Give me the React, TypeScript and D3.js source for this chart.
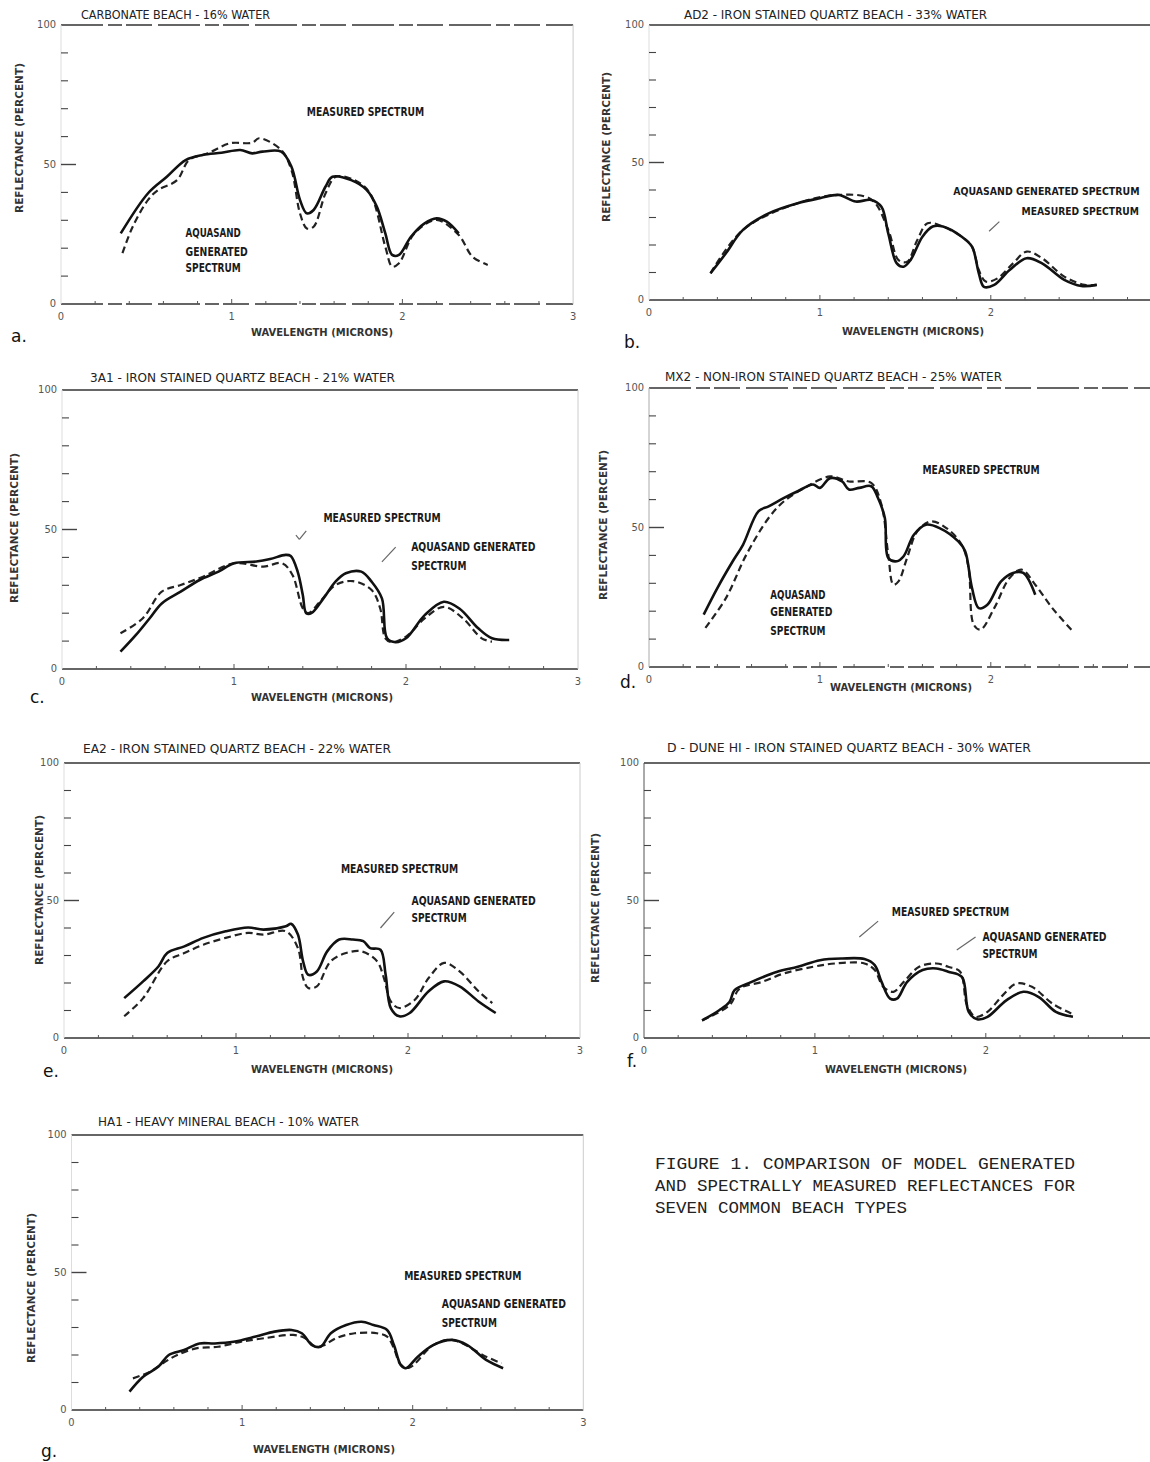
import React from 'react'
import * as d3 from 'd3'

type Pt = [number, number]

// wavelength (microns), reflectance (percent)
const measuredA: Pt[] = [[0.35, 25.3], [0.51, 39.7], [0.62, 45.6], [0.73, 51.6], [0.83, 53.4], [0.94, 54.2], [1.05, 55.2], [1.12, 54.0], [1.18, 54.6], [1.29, 54.6], [1.35, 49.2], [1.40, 37.3], [1.44, 32.5], [1.48, 33.7], [1.55, 42.1], [1.59, 45.6], [1.70, 44.4], [1.79, 40.9], [1.85, 34.9], [1.90, 25.3], [1.94, 17.6], [1.98, 17.6], [2.05, 24.1], [2.13, 28.9], [2.20, 30.7], [2.26, 29.5], [2.33, 25.3]]
const generatedA: Pt[] = [[0.36, 18.2], [0.42, 27.7], [0.51, 37.3], [0.57, 40.9], [0.68, 44.4], [0.75, 51.6], [0.86, 54.0], [0.99, 57.6], [1.12, 57.8], [1.16, 59.4], [1.29, 55.2], [1.35, 48.0], [1.40, 32.5], [1.44, 27.1], [1.48, 27.7], [1.55, 39.7], [1.61, 45.6], [1.72, 44.4], [1.81, 39.7], [1.90, 20.5], [1.94, 13.4], [1.98, 14.6], [2.07, 25.3], [2.20, 30.1], [2.33, 24.7], [2.41, 17.0], [2.50, 14.0]]

const measuredB: Pt[] = [[0.36, 9.7], [0.45, 17.0], [0.55, 25.5], [0.70, 31.5], [0.87, 35.2], [1.00, 37.0], [1.11, 38.2], [1.21, 35.8], [1.30, 36.4], [1.36, 33.9], [1.40, 24.2], [1.45, 13.3], [1.49, 12.1], [1.53, 14.5], [1.60, 23.0], [1.66, 26.7], [1.72, 26.7], [1.83, 23.0], [1.89, 19.4], [1.93, 9.7], [1.96, 4.8], [2.02, 5.5], [2.11, 10.9], [2.21, 15.2], [2.30, 13.3], [2.43, 7.3], [2.53, 5.1], [2.62, 5.5]]
const generatedB: Pt[] = [[0.36, 9.7], [0.55, 25.5], [0.87, 35.2], [1.11, 38.2], [1.30, 36.6], [1.40, 25.5], [1.46, 14.5], [1.51, 13.9], [1.57, 21.8], [1.63, 27.9], [1.72, 26.7], [1.83, 23.0], [1.89, 19.4], [1.93, 10.9], [1.97, 6.7], [2.04, 7.9], [2.13, 13.3], [2.21, 17.6], [2.30, 15.2], [2.43, 8.5], [2.55, 5.5], [2.62, 5.5]]

const measuredC: Pt[] = [[0.34, 6.2], [0.43, 12.2], [0.51, 18.2], [0.58, 23.5], [0.69, 27.7], [0.80, 31.9], [0.91, 34.9], [1.00, 37.9], [1.13, 38.5], [1.21, 39.4], [1.30, 40.9], [1.33, 40.5], [1.37, 34.9], [1.40, 26.5], [1.42, 20.0], [1.45, 20.0], [1.52, 25.3], [1.59, 31.3], [1.65, 34.3], [1.74, 34.9], [1.80, 31.3], [1.86, 25.3], [1.89, 11.0], [1.94, 9.6], [2.00, 11.0], [2.11, 19.4], [2.22, 24.1], [2.31, 21.7], [2.42, 14.6], [2.50, 11.0], [2.60, 10.4]]
const generatedC: Pt[] = [[0.34, 12.8], [0.47, 18.2], [0.58, 27.7], [0.69, 30.1], [0.82, 33.1], [1.00, 37.9], [1.17, 36.7], [1.28, 37.9], [1.34, 33.7], [1.40, 21.7], [1.43, 20.0], [1.50, 24.1], [1.59, 30.1], [1.69, 31.5], [1.80, 28.3], [1.85, 21.7], [1.88, 11.0], [1.92, 9.6], [2.00, 11.6], [2.11, 18.2], [2.22, 22.3], [2.33, 18.2], [2.44, 11.0], [2.50, 9.8]]

const measuredD: Pt[] = [[0.32, 18.8], [0.40, 28.3], [0.49, 37.9], [0.55, 43.8], [0.64, 55.8], [0.70, 57.6], [0.79, 60.6], [0.87, 63.0], [0.96, 65.4], [1.00, 64.2], [1.06, 67.7], [1.13, 66.5], [1.17, 63.6], [1.23, 64.2], [1.30, 64.8], [1.34, 60.6], [1.38, 53.4], [1.40, 39.1], [1.45, 37.9], [1.49, 39.7], [1.55, 47.4], [1.62, 51.0], [1.70, 49.8], [1.81, 45.0], [1.85, 41.5], [1.89, 28.3], [1.93, 21.1], [1.98, 22.3], [2.06, 30.7], [2.13, 33.7], [2.19, 33.7], [2.26, 25.9]]
const generatedD: Pt[] = [[0.33, 14.0], [0.45, 24.7], [0.57, 40.3], [0.70, 53.4], [0.79, 59.4], [0.91, 64.2], [1.06, 68.3], [1.17, 66.5], [1.30, 66.0], [1.36, 58.2], [1.40, 40.3], [1.43, 29.5], [1.46, 30.7], [1.51, 39.1], [1.57, 48.6], [1.65, 52.2], [1.74, 49.8], [1.83, 43.8], [1.87, 35.5], [1.90, 15.2], [1.94, 13.4], [2.02, 21.1], [2.11, 31.9], [2.18, 34.9], [2.26, 29.5], [2.36, 21.1], [2.48, 12.8]]

const measuredE: Pt[] = [[0.35, 14.5], [0.46, 20.6], [0.55, 26.1], [0.60, 30.9], [0.70, 33.3], [0.81, 36.4], [0.94, 38.8], [1.07, 40.2], [1.16, 39.4], [1.29, 40.6], [1.32, 41.5], [1.36, 37.6], [1.39, 27.9], [1.42, 23.0], [1.47, 24.2], [1.53, 31.5], [1.60, 35.8], [1.68, 35.8], [1.74, 35.2], [1.78, 32.7], [1.84, 32.1], [1.87, 23.0], [1.90, 10.9], [1.95, 7.9], [2.01, 9.1], [2.12, 17.0], [2.21, 20.6], [2.30, 18.8], [2.41, 13.3], [2.51, 9.1]]
const generatedE: Pt[] = [[0.35, 7.9], [0.46, 14.5], [0.60, 27.9], [0.70, 30.9], [0.81, 33.9], [0.94, 36.4], [1.07, 38.2], [1.16, 37.6], [1.29, 38.8], [1.36, 32.7], [1.39, 21.8], [1.42, 18.2], [1.47, 18.8], [1.55, 27.9], [1.64, 30.9], [1.73, 31.5], [1.82, 27.9], [1.86, 21.8], [1.90, 13.3], [1.95, 10.9], [2.04, 13.9], [2.12, 21.8], [2.21, 27.3], [2.30, 24.2], [2.41, 17.0], [2.49, 12.7]]

const measuredF: Pt[] = [[0.34, 6.4], [0.44, 10.1], [0.50, 13.1], [0.53, 17.4], [0.63, 20.4], [0.78, 24.1], [0.90, 25.9], [1.03, 28.3], [1.16, 28.9], [1.29, 28.7], [1.35, 26.5], [1.39, 20.4], [1.44, 14.3], [1.48, 14.3], [1.54, 20.4], [1.63, 24.7], [1.71, 25.3], [1.78, 24.1], [1.86, 22.2], [1.90, 9.5], [1.95, 6.8], [2.01, 7.7], [2.12, 13.7], [2.22, 16.8], [2.31, 14.9], [2.41, 9.5], [2.51, 7.7]]
const generatedF: Pt[] = [[0.34, 6.4], [0.50, 11.9], [0.56, 18.0], [0.69, 20.4], [0.82, 23.5], [0.99, 25.9], [1.12, 27.1], [1.29, 27.1], [1.35, 24.7], [1.40, 18.6], [1.46, 16.8], [1.52, 20.4], [1.61, 25.9], [1.71, 27.1], [1.78, 25.9], [1.85, 24.1], [1.89, 11.9], [1.94, 7.7], [2.01, 9.5], [2.10, 15.6], [2.18, 19.8], [2.27, 18.6], [2.39, 12.5], [2.50, 8.9]]

const measuredG: Pt[] = [[0.34, 6.7], [0.42, 12.1], [0.51, 15.8], [0.57, 20.0], [0.66, 21.8], [0.75, 24.2], [0.84, 24.2], [0.95, 24.8], [1.08, 26.7], [1.19, 28.5], [1.29, 29.1], [1.35, 27.9], [1.41, 23.6], [1.46, 23.0], [1.52, 27.9], [1.61, 30.9], [1.70, 32.1], [1.77, 30.9], [1.85, 29.1], [1.89, 23.6], [1.93, 16.4], [1.96, 15.2], [2.03, 19.4], [2.12, 23.6], [2.23, 25.5], [2.32, 23.6], [2.43, 18.2], [2.53, 15.2]]
const generatedG: Pt[] = [[0.36, 11.5], [0.46, 13.9], [0.55, 17.6], [0.62, 20.0], [0.73, 22.4], [0.86, 23.0], [0.99, 24.8], [1.13, 26.1], [1.30, 27.3], [1.37, 26.1], [1.43, 23.0], [1.48, 23.6], [1.55, 26.1], [1.66, 27.9], [1.79, 27.9], [1.85, 26.7], [1.89, 22.4], [1.93, 16.4], [1.98, 15.4], [2.12, 23.6], [2.23, 25.5], [2.43, 19.4], [2.52, 17.0]]

const titles = [
  'CARBONATE BEACH - 16% WATER',
  'AD2 - IRON STAINED QUARTZ BEACH - 33% WATER',
  '3A1 - IRON STAINED QUARTZ BEACH - 21% WATER',
  'MX2 - NON-IRON STAINED QUARTZ BEACH - 25% WATER',
  'EA2 - IRON STAINED QUARTZ BEACH - 22% WATER',
  'D - DUNE HI - IRON STAINED QUARTZ BEACH - 30% WATER',
  'HA1 - HEAVY MINERAL BEACH - 10% WATER',
]
const letters = ['a.', 'b.', 'c.', 'd.', 'e.', 'f.', 'g.']
const yTickLabels = [100, 50, 0]
const xTickLabels = [0, 1, 2, 3]

// annotation text: [text, wavelength, reflectance]
type Note = [string, number, number]
const notesA: Note[] = [['MEASURED SPECTRUM', 1.44, 68.8], ['AQUASAND', 0.73, 25.4], ['GENERATED', 0.73, 18.6], ['SPECTRUM', 0.73, 12.9]]
const notesB: Note[] = [['AQUASAND GENERATED SPECTRUM', 1.78, 39.3], ['MEASURED SPECTRUM', 2.18, 32.0]]
const notesC: Note[] = [['MEASURED SPECTRUM', 1.52, 54.1], ['AQUASAND GENERATED', 2.03, 43.4], ['SPECTRUM', 2.03, 36.9]]
const notesD: Note[] = [['MEASURED SPECTRUM', 1.60, 70.6], ['AQUASAND', 0.71, 25.8], ['GENERATED', 0.71, 19.4], ['SPECTRUM', 0.71, 12.9]]
const notesE: Note[] = [['MEASURED SPECTRUM', 1.61, 61.1], ['AQUASAND GENERATED', 2.02, 49.5], ['SPECTRUM', 2.02, 43.3]]
const notesF: Note[] = [['MEASURED SPECTRUM', 1.45, 45.5], ['AQUASAND GENERATED', 1.98, 36.7], ['SPECTRUM', 1.98, 30.2]]
const notesG: Note[] = [['MEASURED SPECTRUM', 1.95, 48.4], ['AQUASAND GENERATED', 2.17, 38.2], ['SPECTRUM', 2.17, 31.6]]

// leader strokes: [x1, y1, x2, y2] in data units
const leadersB = [[2.05, 28.5, 1.99, 25.0]]
const leadersC = [[1.36, 48.0, 1.38, 46.5], [1.38, 46.5, 1.42, 49.5], [1.94, 43.7, 1.86, 38.4]]
const leadersE = [[1.92, 45.8, 1.84, 40.0]]
const leadersF = [[1.37, 42.5, 1.26, 36.7], [1.94, 36.7, 1.83, 32.0]]

const caption = [
  'FIGURE  1. COMPARISON OF MODEL GENERATED',
  'AND SPECTRALLY MEASURED REFLECTANCES FOR',
  'SEVEN COMMON BEACH TYPES',
]

const W = 1150
const H = 1462
const plotFont = "'Liberation Sans Narrow', 'DejaVu Sans Condensed', 'Roboto Condensed', 'DejaVu Sans', sans-serif"

// panel layout (pixel placement only)
const layout = [
  { x0: 61, ppm: 170.7, y100: 25, y0: 304, title: [81, 15, 189], yLab: [20, 138], xLab: [322, 333], letter: [11, 337], broken: true, axisTone: '#ddd' },
  { x0: 649, ppm: 170.9, y100: 25, y0: 300, title: [684, 15, 303], yLab: [607, 147], xLab: [913, 332], letter: [624, 343], broken: false, axisTone: '#ddd' },
  { x0: 62, ppm: 172, y100: 390, y0: 669, title: [90, 378, 305], yLab: [15, 528], xLab: [322, 698], letter: [30, 698], broken: false, axisTone: '#ddd' },
  { x0: 649, ppm: 170.9, y100: 388, y0: 667, title: [665, 377, 337], yLab: [604, 525], xLab: [901, 688], letter: [620, 683], broken: true, axisTone: '#aaa' },
  { x0: 64, ppm: 172, y100: 763, y0: 1038, title: [83, 749, 308], yLab: [40, 890], xLab: [322, 1070], letter: [43, 1072], broken: false, axisTone: '#ddd' },
  { x0: 644, ppm: 170.9, y100: 763, y0: 1038, title: [667, 748, 364], yLab: [596, 908], xLab: [896, 1070], letter: [627, 1062], broken: false, axisTone: '#555' },
  { x0: 71.5, ppm: 170.6, y100: 1135, y0: 1410, title: [98, 1122, 261], yLab: [32, 1288], xLab: [324, 1450], letter: [41, 1452], broken: false, axisTone: '#ddd' },
]

const series = [
  [measuredA, generatedA, notesA, []],
  [measuredB, generatedB, notesB, leadersB],
  [measuredC, generatedC, notesC, leadersC],
  [measuredD, generatedD, notesD, []],
  [measuredE, generatedE, notesE, leadersE],
  [measuredF, generatedF, notesF, leadersF],
  [measuredG, generatedG, notesG, []],
] as [Pt[], Pt[], Note[], number[][]][]

function Panel({ i }: { i: number }) {
  const L = layout[i]
  const [measured, generated, notes, leaders] = series[i]
  const x = d3.scaleLinear().domain([0, 3]).range([L.x0, L.x0 + 3 * L.ppm])
  const y = d3.scaleLinear().domain([0, 100]).range([L.y0, L.y100])
  const line = d3.line<Pt>()
    .x(d => x(d[0]))
    .y(d => y(d[1]))
    .curve(d3.curveCatmullRom.alpha(0.5))
  const xEnd = Math.min(x(3), W)
  const rightEdge = x(3) <= W
  const frameDash = L.broken ? '42 5 14 4 26 6' : undefined

  return (
    <g>
      <text x={L.title[0]} y={L.title[1]} dominantBaseline="middle" fontFamily={plotFont}
        fontSize={11.5} fill="#222" textLength={L.title[2]} lengthAdjust="spacingAndGlyphs">{titles[i]}</text>

      {/* frame */}
      <line x1={x(0)} x2={xEnd} y1={y(100)} y2={y(100)} stroke="#333" strokeWidth={1.4} strokeDasharray={frameDash} />
      <line x1={x(0)} x2={xEnd} y1={y(0)} y2={y(0)} stroke="#333" strokeWidth={1.4} strokeDasharray={frameDash} />
      <line x1={x(0)} x2={x(0)} y1={y(100)} y2={y(0)} stroke={L.axisTone} strokeWidth={1} />
      {rightEdge && <line x1={x(3)} x2={x(3)} y1={y(100)} y2={y(0)} stroke="#ccc" strokeWidth={1} />}

      {/* y ticks */}
      {d3.range(10, 100, 10).map(v => (
        <line key={'yt' + v} x1={x(0)} x2={x(0) + (v === 50 ? 15 : 7)} y1={y(v)} y2={y(v)}
          stroke="#444" strokeWidth={v === 50 ? 1.4 : 1.1} />
      ))}
      {yTickLabels.map(v => (
        <text key={'yl' + v} x={x(0) - 5} y={y(v)} textAnchor="end" dominantBaseline="middle"
          fontFamily={plotFont} fontSize={11} fill="#555">{v}</text>
      ))}

      {/* x ticks */}
      {d3.range(0.2, 3, 0.2).filter(v => x(v) < W).map(v => (
        <line key={'xt' + v} x1={x(v)} x2={x(v)} y1={y(0)} y2={y(0) - (Math.abs(v - Math.round(v)) < 0.01 ? 5 : 3)}
          stroke="#555" strokeWidth={1} />
      ))}
      {xTickLabels.filter(v => x(v) < W - 8).map(v => (
        <text key={'xl' + v} x={x(v)} y={y(0) + 13} textAnchor="middle" dominantBaseline="middle"
          fontFamily={plotFont} fontSize={11} fill="#555">{v}</text>
      ))}

      {/* axis titles */}
      <text transform={`translate(${L.yLab[0]},${L.yLab[1]}) rotate(-90)`} textAnchor="middle" dominantBaseline="middle"
        fontFamily={plotFont} fontSize={11} fontWeight="bold" fill="#333" textLength={150} lengthAdjust="spacingAndGlyphs">REFLECTANCE (PERCENT)</text>
      <text x={L.xLab[0]} y={L.xLab[1]} textAnchor="middle" dominantBaseline="middle"
        fontFamily={plotFont} fontSize={11} fontWeight="bold" fill="#333" textLength={142} lengthAdjust="spacingAndGlyphs">WAVELENGTH (MICRONS)</text>
      <text x={L.letter[0]} y={L.letter[1]} dominantBaseline="middle" fontFamily="'DejaVu Sans', sans-serif"
        fontSize={17} fill="#111">{letters[i]}</text>

      {/* spectra */}
      <path d={line(generated) ?? ''} fill="none" stroke="#222" strokeWidth={2.2} strokeDasharray="7 4" />
      <path d={line(measured) ?? ''} fill="none" stroke="#111" strokeWidth={2.6} strokeLinejoin="round" />

      {/* labels (shrunk only where the natural width would pass the page edge) */}
      {notes.map(([t, nx, ny], k) => {
        const fs = Math.min(11.5, (W - 8 - x(nx)) / (t.length * 0.72))
        return (
          <text key={'n' + k} x={x(nx)} y={y(ny)} dominantBaseline="middle"
            fontFamily={plotFont} fontSize={fs} fontWeight="bold" fill="#1a1a1a"
            textLength={t.length * 6.9} lengthAdjust="spacingAndGlyphs">{t}</text>
        )
      })}
      {leaders.map((l, k) => (
        <line key={'ld' + k} x1={x(l[0])} y1={y(l[1])} x2={x(l[2])} y2={y(l[3])} stroke="#666" strokeWidth={1.2} />
      ))}
    </g>
  )
}

export default function App() {
  return (
    <div style={{ position: 'absolute', left: 0, top: 0 }}>
      <svg width={W} height={H} viewBox={`0 0 ${W} ${H}`} style={{ display: 'block', background: '#fff' }}>
        <rect width={W} height={H} fill="#fff" />
        {layout.map((_, i) => <Panel key={i} i={i} />)}
        {caption.map((t, k) => (
          <text key={'c' + k} x={655} y={1165 + k * 22} dominantBaseline="middle"
            fontFamily="'Liberation Mono', 'DejaVu Sans Mono', monospace" fontSize={17} fill="#222"
            textLength={t.length * 10.5} lengthAdjust="spacingAndGlyphs">{t}</text>
        ))}
      </svg>
    </div>
  )
}
